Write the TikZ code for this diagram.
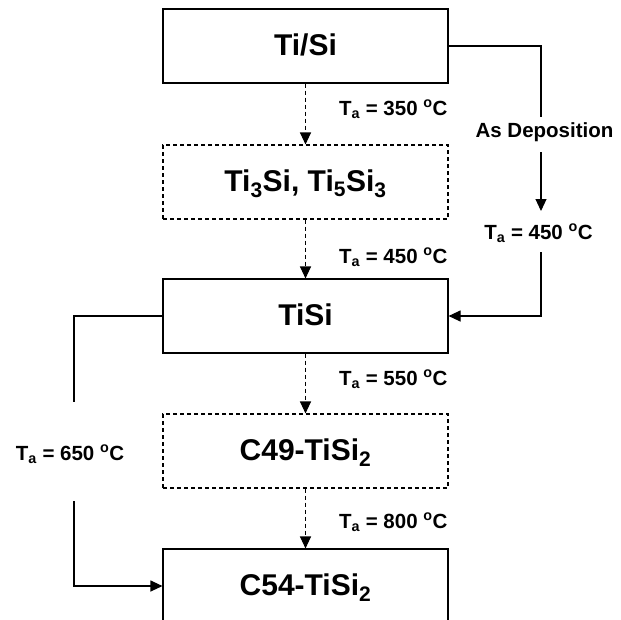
\documentclass[tikz,border=0pt]{standalone}
\usepackage{fontspec}
\setmainfont{Liberation Sans}
\usetikzlibrary{arrows.meta}
\begin{document}
\begin{tikzpicture}[x=1pt,y=-1pt,
  line width=1.1pt,
  tip/.style={-{Triangle[length=12pt,width=11pt]}},
  dsh/.style={dash pattern=on 4pt off 3pt},
  phase/.style={draw,minimum width=285pt,minimum height=74pt,inner sep=0pt,
    text height=22pt,text depth=4pt,font=\fontsize{30}{30}\selectfont\bfseries},
  lbl/.style={font=\fontsize{20.5}{20.5}\selectfont\bfseries,inner sep=0pt}]
\useasboundingbox (0,0) rectangle (621,619);
\clip (0,0) rectangle (621,619);
\node[phase] (b1) at (305.5,46) {Ti/Si};
\node[phase,dsh] (b2) at (305.5,182) {Ti\textsubscript{3}Si, Ti\textsubscript{5}Si\textsubscript{3}};
\node[phase] (b3) at (305.5,316) {TiSi};
\node[phase,dsh] (b4) at (305.5,451) {C49-TiSi\textsubscript{2}};
\node[phase] (b5) at (305.5,586) {C54-TiSi\textsubscript{2}};
\node[lbl,anchor=base east] (t350) at (448,115) {T\textsubscript{a} = 350 \textsuperscript{o}C};
\node[lbl,anchor=base east] (t450) at (448,263) {T\textsubscript{a} = 450 \textsuperscript{o}C};
\node[lbl,anchor=base east] (t550) at (448,385) {T\textsubscript{a} = 550 \textsuperscript{o}C};
\node[lbl,anchor=base east] (t800) at (448,528) {T\textsubscript{a} = 800 \textsuperscript{o}C};
\node[lbl,anchor=base] (t650) at (70,460) {T\textsubscript{a} = 650 \textsuperscript{o}C};
\node[lbl,anchor=base] (asdep) at (544.5,137) {As Deposition};
\node[lbl,anchor=base] (t450r) at (538.5,239) {T\textsubscript{a} = 450 \textsuperscript{o}C};
\coordinate (rtop) at (541,46);
\coordinate (rbot) at (541,316);
\coordinate (ra) at (541,117);
\coordinate (rb) at (541,152);
\coordinate (rd) at (541,211);
\coordinate (rc) at (541,252);
\coordinate (lt) at (74,402);
\coordinate (lb) at (74,501);
\draw[tip,dsh] (b1) -- (b2);
\draw[tip,dsh] (b2) -- (b3);
\draw[tip,dsh] (b3) -- (b4);
\draw[tip,dsh] (b4) -- (b5);
\draw (b1.east) -- (rtop) -- (ra);
\draw[tip] (rb) -- (rd);
\draw[tip] (rc) -- (rbot) -- (b3.east);
\draw (b3.west) -| (lt);
\draw[tip] (lb) |- (b5.west);
\end{tikzpicture}
\end{document}
